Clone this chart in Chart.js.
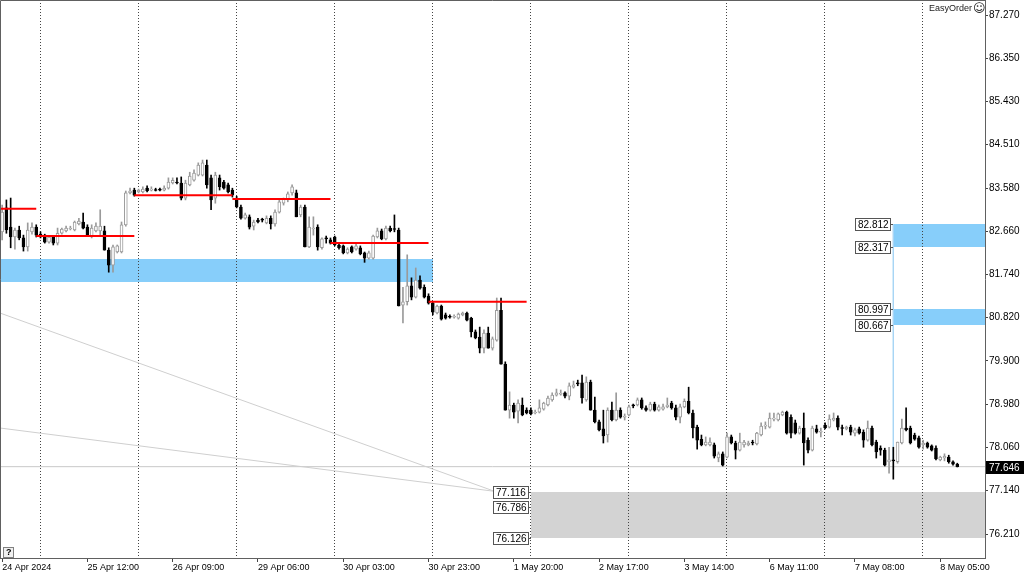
<!DOCTYPE html>
<html lang="en">
<head>
<meta charset="UTF-8">
<title>EasyOrder H1</title>
<script src="https://cdn.jsdelivr.net/npm/chart.js"></script>
<style>
  html, body { margin: 0; padding: 0; background: #fff; }
  #wrap { width: 1024px; height: 576px; }
</style>
</head>
<body>
<div id="wrap"><canvas id="chart" width="1024" height="576"></canvas></div>
<script>
// time axis: one label every 20 hourly bars, day separators every 23 bars
const tickLabels = ['24 Apr 2024', '25 Apr 12:00', '26 Apr 09:00', '29 Apr 06:00', '30 Apr 03:00',
  '30 Apr 23:00', '1 May 20:00', '2 May 17:00', '3 May 14:00', '6 May 11:00', '7 May 08:00', '8 May 05:00'];
const labelEvery = 20;
const separators = [9, 32, 55, 78, 101, 124, 147, 170, 193, 216];
const yTicks = [87.270, 86.350, 85.430, 84.510, 83.580, 82.660, 81.740, 80.820, 79.900, 78.980, 78.060, 77.140, 76.210];

// OHLC, one row per trading day
const opens = [
  82.65, 83.16, 82.75, 82.54, 82.69, 82.52, 82.33, 82.65, 82.75,
  82.60, 82.58, 82.43, 82.54, 82.41, 82.62, 82.67, 82.71, 82.69, 82.82, 82.86, 82.75, 82.54, 82.67, 82.67, 82.67, 82.26, 81.94, 82.22, 82.22, 82.80, 83.48, 83.54,
  83.50, 83.50, 83.58, 83.54, 83.54, 83.54, 83.54, 83.58, 83.69, 83.71, 83.69, 83.37, 83.65, 83.75, 83.86, 83.86, 84.07, 83.80, 83.37, 83.80, 83.71, 83.65, 83.54,
  83.37, 83.18, 82.94, 82.97, 82.77, 82.90, 82.90, 82.84, 82.94, 82.82, 83.07, 83.26, 83.33, 83.48, 83.48, 83.01, 83.18, 82.33, 82.71, 82.75, 82.31, 82.50, 82.48,
  82.54, 82.37, 82.35, 82.20, 82.33, 82.28, 82.31, 82.20, 82.09, 82.09, 82.54, 82.67, 82.50, 82.73, 82.71, 82.69, 81.09, 81.16, 81.50, 81.26, 81.62, 81.47, 81.28,
  81.13, 80.92, 81.07, 80.88, 80.83, 80.83, 80.81, 80.88, 80.92, 80.81, 80.52, 80.41, 80.17, 80.49, 80.17, 80.34, 80.98, 79.83, 78.85, 78.96, 78.83, 78.96, 78.85,
  78.85, 78.79, 78.81, 78.87, 78.96, 79.07, 79.17, 79.19, 79.22, 79.15, 79.34, 79.41, 79.43, 79.07, 79.45, 78.85, 78.60, 78.45, 78.32, 78.85, 78.64, 78.85, 78.70,
  78.75, 78.94, 78.96, 79.07, 78.90, 78.85, 78.98, 78.85, 78.87, 78.92, 79.00, 78.90, 78.70, 78.92, 79.04, 78.79, 78.49, 78.23, 78.11, 78.11, 78.11, 77.83, 77.92,
  77.85, 78.28, 78.15, 78.00, 78.11, 78.11, 78.17, 78.13, 78.32, 78.51, 78.49, 78.66, 78.64, 78.75, 78.81, 78.70, 78.58, 78.36, 78.47, 78.21, 78.00, 78.45, 78.38,
  78.53, 78.49, 78.64, 78.68, 78.47, 78.45, 78.49, 78.36, 78.45, 78.38, 78.21, 78.47, 78.17, 78.04, 78.00, 77.75, 77.79, 77.75, 78.15, 78.47, 78.47, 78.32, 78.26,
  78.11, 78.15, 78.09, 78.04, 77.79, 77.83, 77.85, 77.75, 77.70
];
const highs = [
  83.22, 83.33, 83.37, 82.73, 82.77, 82.58, 82.84, 82.84, 82.80,
  82.65, 82.60, 82.56, 82.56, 82.73, 82.73, 82.77, 82.77, 82.88, 82.94, 83.05, 82.80, 82.80, 82.84, 83.12, 82.77, 82.31, 82.37, 82.37, 82.86, 83.52, 83.58, 83.58,
  83.56, 83.61, 83.63, 83.61, 83.58, 83.58, 83.63, 83.80, 83.80, 83.80, 83.82, 83.75, 83.92, 83.97, 84.12, 84.18, 84.18, 83.86, 83.92, 83.86, 83.75, 83.69, 83.58,
  83.41, 83.22, 83.05, 83.01, 82.90, 82.94, 82.94, 82.99, 82.99, 83.12, 83.33, 83.37, 83.50, 83.65, 83.54, 83.22, 83.22, 82.97, 82.97, 82.80, 82.52, 82.56, 82.52,
  82.56, 82.39, 82.37, 82.31, 82.35, 82.39, 82.35, 82.22, 82.24, 82.58, 82.73, 82.71, 82.77, 82.77, 83.01, 82.73, 81.47, 82.16, 81.67, 81.88, 81.71, 81.52, 81.33,
  81.16, 81.09, 81.09, 80.92, 80.88, 80.88, 80.92, 80.94, 80.94, 80.83, 80.56, 80.62, 80.56, 80.62, 80.41, 81.24, 81.24, 79.88, 79.24, 79.00, 79.07, 79.11, 78.90,
  78.90, 78.85, 79.07, 79.02, 79.15, 79.22, 79.30, 79.28, 79.24, 79.43, 79.47, 79.49, 79.60, 79.56, 79.49, 79.13, 78.64, 78.85, 78.90, 79.02, 79.22, 78.90, 78.77,
  78.96, 78.98, 79.11, 79.11, 78.94, 79.02, 79.02, 78.96, 78.98, 79.11, 79.04, 78.96, 78.98, 79.09, 79.34, 78.85, 78.53, 78.32, 78.28, 78.26, 78.15, 77.96, 77.96,
  78.36, 78.32, 78.19, 78.36, 78.21, 78.19, 78.21, 78.38, 78.58, 78.60, 78.79, 78.79, 78.79, 78.83, 78.83, 78.75, 78.64, 78.51, 78.79, 78.26, 78.51, 78.53, 78.47,
  78.58, 78.75, 78.79, 78.73, 78.53, 78.51, 78.53, 78.47, 78.49, 78.43, 78.62, 78.51, 78.21, 78.09, 78.04, 78.06, 78.06, 78.17, 78.66, 78.90, 78.51, 78.36, 78.30,
  78.21, 78.17, 78.11, 78.09, 77.87, 77.92, 77.89, 77.77, 77.72
];
const lows = [
  82.48, 82.62, 82.31, 82.28, 82.48, 82.24, 82.24, 82.60, 82.54,
  82.52, 82.41, 82.41, 82.37, 82.37, 82.60, 82.65, 82.69, 82.67, 82.80, 82.71, 82.56, 82.52, 82.65, 82.58, 82.26, 81.79, 81.79, 82.20, 82.20, 82.77, 83.46, 83.41,
  83.48, 83.48, 83.50, 83.52, 83.52, 83.52, 83.52, 83.56, 83.67, 83.67, 83.33, 83.33, 83.63, 83.73, 83.84, 83.84, 83.58, 83.12, 83.26, 83.54, 83.56, 83.48, 83.39,
  83.16, 82.92, 82.92, 82.71, 82.69, 82.84, 82.86, 82.82, 82.71, 82.77, 83.05, 83.22, 83.29, 83.43, 82.97, 82.97, 82.33, 82.31, 82.58, 82.26, 82.28, 82.41, 82.39,
  82.35, 82.28, 82.18, 82.18, 82.20, 82.26, 82.16, 82.00, 82.07, 82.07, 82.52, 82.48, 82.48, 82.65, 82.65, 81.07, 80.71, 81.09, 81.20, 81.24, 81.43, 81.24, 81.11,
  80.88, 80.90, 80.77, 80.79, 80.81, 80.81, 80.79, 80.86, 80.75, 80.41, 80.37, 80.07, 80.07, 80.17, 80.13, 80.32, 79.83, 78.85, 78.68, 78.68, 78.58, 78.73, 78.77,
  78.75, 78.77, 78.79, 78.85, 78.94, 79.04, 79.15, 79.17, 79.11, 79.07, 79.32, 79.37, 79.00, 79.04, 78.85, 78.58, 78.41, 78.15, 78.17, 78.62, 78.62, 78.68, 78.64,
  78.73, 78.90, 78.94, 78.87, 78.83, 78.83, 78.83, 78.83, 78.85, 78.90, 78.87, 78.64, 78.58, 78.90, 78.77, 78.26, 78.02, 78.09, 78.09, 78.09, 77.83, 77.75, 77.66,
  77.83, 78.13, 77.81, 77.98, 78.06, 78.09, 78.11, 78.11, 78.30, 78.45, 78.47, 78.62, 78.62, 78.73, 78.34, 78.26, 78.34, 78.34, 77.68, 77.94, 77.98, 78.36, 78.28,
  78.45, 78.47, 78.62, 78.43, 78.32, 78.43, 78.32, 78.30, 78.34, 78.06, 78.19, 78.09, 77.83, 77.89, 77.66, 77.51, 77.38, 77.72, 78.13, 78.41, 78.13, 78.21, 78.04,
  78.02, 78.04, 77.98, 77.79, 77.77, 77.77, 77.72, 77.68, 77.64
];
const closes = [
  83.07, 82.69, 82.54, 82.69, 82.52, 82.33, 82.69, 82.75, 82.58,
  82.54, 82.43, 82.54, 82.41, 82.62, 82.71, 82.73, 82.73, 82.86, 82.88, 82.73, 82.58, 82.73, 82.77, 82.77, 82.26, 81.94, 82.33, 82.35, 82.80, 83.48, 83.52, 83.43,
  83.54, 83.56, 83.52, 83.56, 83.53, 83.54, 83.58, 83.71, 83.75, 83.69, 83.37, 83.69, 83.84, 83.90, 84.07, 84.12, 83.65, 83.33, 83.86, 83.61, 83.58, 83.50, 83.43,
  83.18, 82.94, 83.01, 82.75, 82.86, 82.86, 82.90, 82.94, 82.82, 83.07, 83.29, 83.35, 83.46, 83.61, 82.97, 83.18, 82.33, 82.75, 82.73, 82.33, 82.50, 82.50, 82.41,
  82.37, 82.31, 82.20, 82.28, 82.22, 82.35, 82.18, 82.09, 82.20, 82.56, 82.67, 82.50, 82.73, 82.67, 82.70, 81.07, 81.16, 81.50, 81.26, 81.62, 81.45, 81.26, 81.13,
  80.94, 81.07, 80.79, 80.81, 80.83, 80.84, 80.90, 80.92, 80.77, 80.52, 80.39, 80.17, 80.49, 80.17, 80.37, 80.98, 79.83, 78.85, 78.96, 78.81, 79.00, 78.75, 78.79,
  78.77, 78.81, 78.90, 79.00, 79.11, 79.17, 79.22, 79.20, 79.15, 79.37, 79.39, 79.41, 79.11, 79.45, 78.85, 78.60, 78.43, 78.30, 78.85, 78.64, 78.85, 78.70, 78.71,
  78.92, 78.94, 79.07, 78.90, 78.85, 78.98, 78.85, 78.92, 78.92, 78.96, 78.90, 78.70, 78.92, 79.04, 78.79, 78.47, 78.21, 78.11, 78.17, 78.17, 77.87, 77.92, 77.68,
  78.28, 78.15, 78.00, 78.17, 78.17, 78.15, 78.15, 78.36, 78.51, 78.52, 78.68, 78.67, 78.77, 78.81, 78.36, 78.36, 78.36, 78.47, 78.15, 78.00, 78.47, 78.38, 78.39,
  78.47, 78.66, 78.68, 78.49, 78.46, 78.49, 78.38, 78.43, 78.36, 78.21, 78.47, 78.11, 77.96, 78.00, 77.68, 77.79, 77.77, 78.17, 78.47, 78.43, 78.15, 78.23, 78.06,
  78.15, 78.06, 78.00, 77.81, 77.85, 77.87, 77.75, 77.70, 77.646
];

// daily open levels (red), bar index range of each
const dayOpen = [83.14, 82.56, 83.43, 83.35, 82.41, 81.16];
const dayFrom = [-0.5, 8, 31, 54, 77, 100];
const dayTo = [8, 31, 54, 77, 100, 123];

// zones
const zoneTop = [82.07, 82.812, 80.997, 77.116];
const zoneBottom = [81.58, 82.317, 80.667, 76.126];
const zoneFrom = [-0.5, 209, 209, 124];
const zoneTo = [101, null, null, null];
const zoneLabelPrice = [82.812, 82.317, 80.997, 80.667, 77.116, 76.786, 76.126];
const zoneLabelAt = [209, 209, 209, 209, 124, 124, 124];

// thin trend lines meeting at the grey zone
const trendStart = [80.92, 78.47];
const trendEnd = [77.12, 77.12];
const trendFrom = -0.5, trendTo = 115.5;

const lastPrice = 77.646;
const xMin = -0.5, xMax = 230.5;

const FONT = '"Liberation Sans", Arial, sans-serif';
Chart.defaults.font.family = FONT;
Chart.defaults.font.size = 9;
Chart.defaults.color = '#000';

const up = i => closes[i] > opens[i];
const idx = opens.map((_, i) => i);

const datasets = [
  {
    type: 'bar', label: 'body', order: 2, grouped: false,
    data: idx.map(i => ({ x: i, y: [opens[i], closes[i]] })),
    barThickness: 3, minBarLength: 1, borderSkipped: false, borderWidth: 1,
    backgroundColor: ctx => up(ctx.dataIndex) ? '#ffffff' : '#000000',
    borderColor: ctx => up(ctx.dataIndex) ? '#9a9a9a' : '#000000'
  },
  {
    type: 'bar', label: 'wick', order: 3, grouped: false,
    data: idx.map(i => ({ x: i, y: [lows[i], highs[i]] })),
    barThickness: 1, borderWidth: 0,
    backgroundColor: ctx => up(ctx.dataIndex) ? '#9a9a9a' : '#000000'
  }
];

dayOpen.forEach((p, k) => datasets.push({
  type: 'line', label: 'open' + k, order: 1,
  data: [{ x: dayFrom[k], y: p }, { x: dayTo[k], y: p }],
  borderColor: '#ff0000', borderWidth: 2, pointRadius: 0, tension: 0
}));

trendStart.forEach((p, k) => datasets.push({
  type: 'line', label: 'trend' + k, order: 6,
  data: [{ x: trendFrom, y: p }, { x: trendTo, y: trendEnd[k] }],
  borderColor: '#cfcfcf', borderWidth: 1, pointRadius: 0, tension: 0
}));

datasets.push({
  type: 'line', label: 'last', order: 7,
  data: [{ x: xMin, y: lastPrice }, { x: xMax, y: lastPrice }],
  borderColor: '#c8c8c8', borderWidth: 1, pointRadius: 0
});

datasets.push({
  type: 'line', label: 'link', order: 5,
  data: [{ x: zoneFrom[1], y: zoneTop[1] }, { x: zoneFrom[1], y: 77.78 }],
  borderColor: '#a9d6f5', borderWidth: 1, pointRadius: 0
});

const backdrop = {
  id: 'backdrop',
  beforeDatasetsDraw(chart) {
    const { ctx, chartArea: a, scales: { x, y } } = chart;
    ctx.save();
    ctx.beginPath();
    ctx.rect(a.left, a.top, a.width, a.height);
    ctx.clip();
    const colors = ['#87cefa', '#87cefa', '#87cefa', '#d3d3d3'];
    zoneTop.forEach((top, k) => {
      const x0 = Math.round(x.getPixelForValue(zoneFrom[k]));
      const x1 = zoneTo[k] === null ? a.right : Math.round(x.getPixelForValue(zoneTo[k]));
      const y0 = Math.round(y.getPixelForValue(top));
      const y1 = Math.round(y.getPixelForValue(zoneBottom[k]));
      ctx.fillStyle = colors[k];
      ctx.fillRect(x0, y0, x1 - x0, y1 - y0);
    });
    ctx.strokeStyle = '#444';
    ctx.lineWidth = 1;
    ctx.setLineDash([1, 2]);
    separators.forEach(i => {
      const px = Math.round(x.getPixelForValue(i)) - 0.5;
      ctx.beginPath();
      ctx.moveTo(px, a.top);
      ctx.lineTo(px, a.bottom);
      ctx.stroke();
    });
    ctx.restore();
  },
  afterDatasetsDraw(chart) {
    const { ctx, scales: { x, y } } = chart;
    ctx.save();
    ctx.font = '10px ' + FONT;
    ctx.textBaseline = 'middle';
    ctx.lineWidth = 1;
    zoneLabelPrice.forEach((p, k) => {
      const px = Math.round(x.getPixelForValue(zoneLabelAt[k]));
      const py = Math.round(y.getPixelForValue(p));
      const w = 36, h = 13, bx = px - w - 2;
      ctx.fillStyle = '#fff';
      ctx.fillRect(bx, py - 6, w, h);
      ctx.strokeStyle = '#555';
      ctx.strokeRect(bx + 0.5, py - 5.5, w - 1, h - 1);
      ctx.beginPath();
      ctx.moveTo(bx + w, py + 0.5);
      ctx.lineTo(px, py + 0.5);
      ctx.stroke();
      ctx.fillStyle = '#000';
      ctx.fillText(p.toFixed(3), bx + 3, py + 1);
    });
    ctx.restore();
  },
  afterDraw(chart) {
    const { ctx, chartArea: a, scales: { y } } = chart;
    ctx.save();
    ctx.strokeStyle = '#606060';
    ctx.lineWidth = 1;
    ctx.beginPath();
    ctx.moveTo(0.5, a.bottom);
    ctx.lineTo(0.5, 0.5);
    ctx.lineTo(a.right, 0.5);
    ctx.stroke();

    // last price tag on the axis
    const py = Math.round(y.getPixelForValue(lastPrice));
    ctx.fillStyle = '#000';
    ctx.fillRect(a.right + 1, py - 6, 1024 - a.right - 1, 13);
    ctx.fillStyle = '#fff';
    ctx.font = '10px ' + FONT;
    ctx.textBaseline = 'middle';
    ctx.fillText(lastPrice.toFixed(3), a.right + 4, py + 1);

    // EasyOrder caption
    ctx.font = '9px ' + FONT;
    ctx.fillStyle = '#222';
    ctx.fillText('EasyOrder', 929, 9);
    ctx.font = '12px "DejaVu Sans"';
    ctx.fillText('\u263A', 973, 9);

    // help button
    ctx.fillStyle = '#f0f0f0';
    ctx.fillRect(3, 547, 11, 11);
    ctx.strokeStyle = '#808080';
    ctx.strokeRect(3.5, 547.5, 10, 10);
    ctx.fillStyle = '#000';
    ctx.font = 'bold 9px ' + FONT;
    ctx.fillText('?', 6, 553);
    ctx.restore();
  }
};

new Chart(document.getElementById('chart'), {
  type: 'bar',
  data: { datasets },
  options: {
    responsive: false,
    animation: false,
    devicePixelRatio: 1,
    layout: { padding: 0 },
    plugins: { legend: { display: false }, tooltip: { enabled: false } },
    scales: {
      x: {
        type: 'linear', min: xMin, max: xMax, offset: false,
        afterBuildTicks: axis => { axis.ticks = tickLabels.map((_, k) => ({ value: k * labelEvery })); },
        afterFit: axis => { axis.height = 18; axis.paddingLeft = 0; axis.paddingRight = 0; },
        ticks: {
          autoSkip: false, maxRotation: 0, align: 'start', padding: 0,
          callback: v => tickLabels[Math.round(v / labelEvery)]
        },
        grid: { offset: false, drawOnChartArea: false, drawTicks: true, tickLength: 4, color: '#444' },
        border: { color: '#606060' }
      },
      y: {
        type: 'linear', position: 'right', min: 75.70, max: 87.59,
        afterBuildTicks: axis => { axis.ticks = yTicks.map(v => ({ value: v })); },
        afterFit: axis => { axis.width = 39; axis.paddingTop = 0; axis.paddingBottom = 0; },
        ticks: { padding: 1, font: { size: 10 }, callback: v => v.toFixed(3) },
        grid: { drawOnChartArea: false, drawTicks: true, tickLength: 3, color: '#444' },
        border: { color: '#606060' }
      }
    }
  },
  plugins: [backdrop]
});
</script>
</body>
</html>
